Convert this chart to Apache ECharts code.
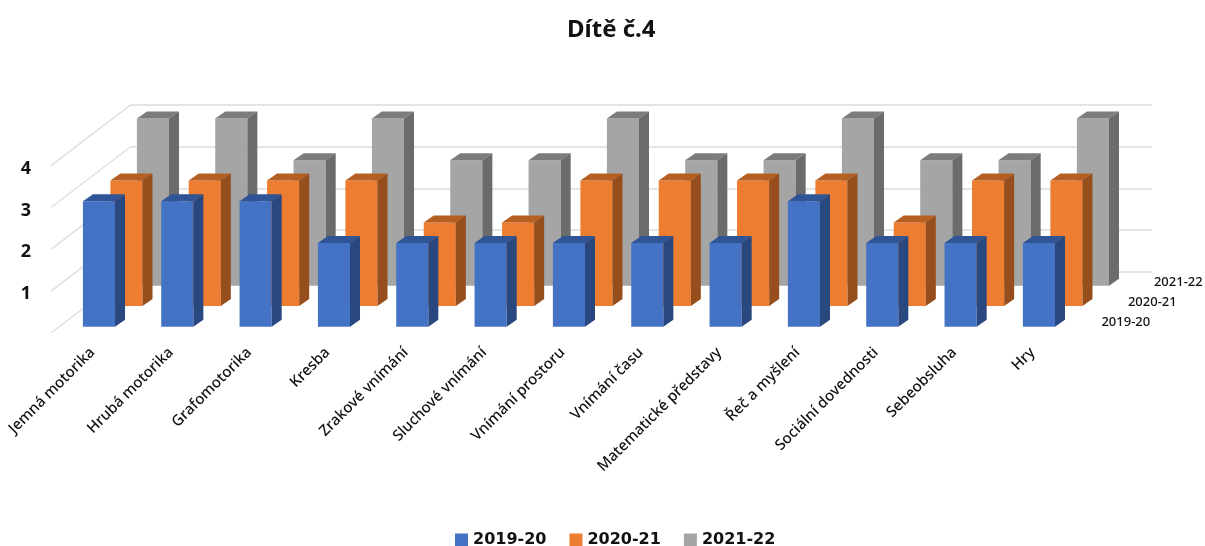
<!DOCTYPE html>
<html>
<head>
<meta charset="utf-8">
<style>html,body{margin:0;padding:0;background:#fff}#c{width:1205px;height:546px;filter:blur(0.4px)}</style>
<script src="https://cdn.jsdelivr.net/npm/echarts@6/dist/echarts.min.js"></script>
</head>
<body>
<div id="c"></div>
<script>
var categories = ['Jemná motorika','Hrubá motorika','Grafomotorika','Kresba','Zrakové vnímání','Sluchové vnímání','Vnímání prostoru','Vnímání času','Matematické představy','Řeč a myšlení','Sociální dovednosti','Sebeobsluha','Hry'];
var seriesNames = ['2019-20','2020-21','2021-22'];
var values2019 = [3,3,3,2,2,2,2,2,2,3,2,2,2];
var values2020 = [3,3,3,3,2,2,3,3,3,3,2,3,3];
var values2021 = [4,4,3,4,3,3,4,3,3,4,3,3,4];
var valueTicks = [0,1,2,3,4];

var depthShift = [[0,0],[27.5,-20.7],[54,-41]];
var depthLabelPos = [[62.5,-4.7],[89,-24.7],[115,-44.7]];
var faces = [
  {front:'#4472C4', top:'#2F5597', side:'#2A4880'},
  {front:'#ED7D31', top:'#B65F23', side:'#964F1C'},
  {front:'#A5A5A5', top:'#7C7C7C', side:'#6B6B6B'}
];
var barRatio = 0.41, sideX = 10, sideY = 7;

function barRenderer(s){
  return function(params, api){
    var base = api.coord([api.value(0), 0]);
    var top = api.coord([api.value(0), api.value(1)]);
    var w = api.size([1,0])[0] * barRatio;
    var xl = base[0] - w/2 + depthShift[s][0];
    var xr = xl + w;
    var yb = base[1] + depthShift[s][1];
    var yt = top[1] + depthShift[s][1];
    return {type:'group', children:[
      {type:'polygon', shape:{points:[[xl,yb],[xr,yb],[xr,yt],[xl,yt]]}, style:{fill:faces[s].front}},
      {type:'polygon', shape:{points:[[xl,yt],[xr,yt],[xr+sideX,yt-sideY],[xl+sideX,yt-sideY]]}, style:{fill:faces[s].top}},
      {type:'polygon', shape:{points:[[xr,yb],[xr+sideX,yb-sideY],[xr+sideX,yt-sideY],[xr,yt]]}, style:{fill:faces[s].side}}
    ]};
  };
}
function barData(vals){ return vals.map(function(v,i){ return [i,v]; }); }

var chart = echarts.init(document.getElementById('c'), null, {renderer:'canvas'});
chart.setOption({
  animation:false,
  backgroundColor:'#fff',
  title:{text:'Dítě č.4', left:562, top:13, textStyle:{fontFamily:'Noto Sans', fontWeight:'bold', fontSize:24, color:'#111'}},
  legend:{
    data:seriesNames, left:450, top:527, itemWidth:13, itemHeight:13, itemGap:23, icon:'rect',
    textStyle:{fontFamily:'DejaVu Sans', fontWeight:'bold', fontSize:16, color:'#111', padding:[0,0,0,0]}
  },
  grid:[
    {left:59.8, width:1018.3, top:159.5, height:167.2},
    {left:131, width:1021, top:104.7, height:167.3},
    {left:51, width:80, top:169, height:166}
  ],
  xAxis:[
    {gridIndex:0, type:'category', data:categories, axisLine:{show:false}, axisTick:{show:false},
     axisLabel:{interval:0, rotate:45, margin:17, padding:[0,9,0,0], fontFamily:'Noto Sans', fontWeight:500, fontSize:15, color:'#111'}},
    {gridIndex:1, type:'value', min:0, max:1, show:false},
    {gridIndex:2, type:'value', min:0, max:1, show:false}
  ],
  yAxis:[
    {gridIndex:0, type:'value', min:0, max:4, show:false},
    {gridIndex:1, type:'value', min:0, max:4, interval:1, axisLine:{show:false}, axisTick:{show:false}, axisLabel:{show:false},
     splitLine:{show:true, lineStyle:{color:'#E4E4E4', width:2}}},
    {gridIndex:2, type:'value', min:0, max:4, interval:1, axisLine:{show:false}, axisTick:{show:false}, splitLine:{show:false},
     axisLabel:{margin:20, fontFamily:'Noto Sans', fontWeight:'bold', fontSize:18, color:'#111',
       formatter:function(v){ return v === 0 ? '' : String(v); }}}
  ],
  series:[
    {type:'custom', name:'walls', xAxisIndex:1, yAxisIndex:1, z:1, silent:true, data:valueTicks,
     renderItem:function(params, api){
       var p = api.coord([0, api.value(0)]);
       return {type:'line', shape:{x1:p[0], y1:p[1], x2:p[0]-80, y2:p[1]+61}, style:{stroke:'#E0E0E0', lineWidth:1.5, fill:null}};
     }},
    {type:'custom', name:seriesNames[0], xAxisIndex:0, yAxisIndex:0, z:4, data:barData(values2019), itemStyle:{color:faces[0].front}, renderItem:barRenderer(0)},
    {type:'custom', name:seriesNames[1], xAxisIndex:0, yAxisIndex:0, z:3, data:barData(values2020), itemStyle:{color:faces[1].front}, renderItem:barRenderer(1)},
    {type:'custom', name:seriesNames[2], xAxisIndex:0, yAxisIndex:0, z:2, data:barData(values2021), itemStyle:{color:faces[2].front}, renderItem:barRenderer(2)},
    {type:'custom', name:'depth', xAxisIndex:0, yAxisIndex:0, z:5, silent:true, data:[0,1,2],
     renderItem:function(params, api){
       var i = api.value(0);
       var p = api.coord([categories.length-1, 0]);
       return {type:'text', style:{x:p[0]+depthLabelPos[i][0], y:p[1]+depthLabelPos[i][1], text:seriesNames[i],
         align:'left', verticalAlign:'middle', font:'500 13px "Noto Sans"', fill:'#111'}};
     }},
    {type:'scatter', xAxisIndex:2, yAxisIndex:2, data:[], silent:true}
  ]
});
</script>
</body>
</html>
